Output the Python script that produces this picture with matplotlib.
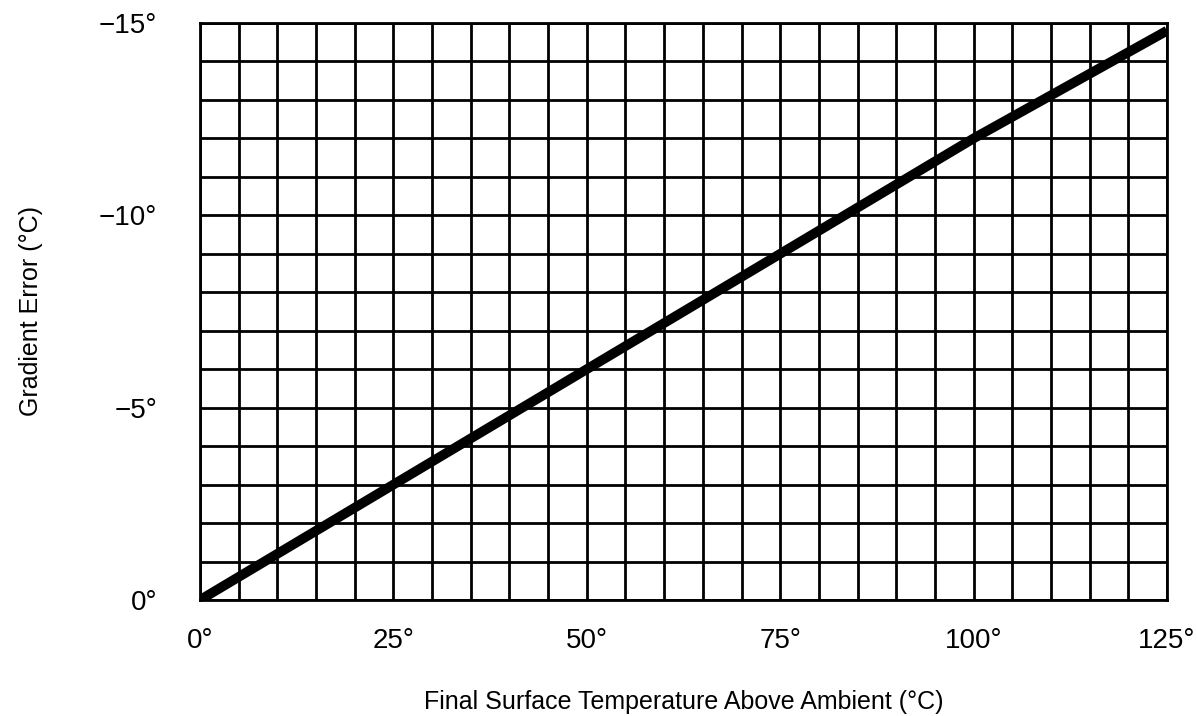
import matplotlib
matplotlib.use("Agg")
import matplotlib.pyplot as plt
import numpy as np

plt.rcParams['font.family'] = ['Liberation Sans', 'DejaVu Sans']

# Data
temp_above_ambient = [0, 25, 50, 75, 100, 125]
gradient_error = [0, -3.0, -6.0, -9.0, -12.0, -14.8]

x_ticks = [0, 25, 50, 75, 100, 125]
x_tick_labels = ["0°", "25°", "50°", "75°", "100°", "125°"]
y_ticks = [0, -5, -10, -15]
y_tick_labels = ["0°", "\u22125°", "\u221210°", "\u221215°"]

fig = plt.figure(figsize=(11.97, 7.16), dpi=100)
ax = fig.add_axes([200/1197, (716-600)/716, (1167-200)/1197, (600-23)/716])

ax.set_xlim(0, 125)
ax.set_ylim(0, -15)

# grid
for xv in np.arange(0, 126, 5):
    ax.axvline(xv, color='black', lw=2.0, zorder=1)
for yv in np.arange(0, -16, -1):
    ax.axhline(yv, color='black', lw=2.0, zorder=1)

ax.plot(temp_above_ambient, gradient_error, color='black', lw=7, solid_capstyle='butt', zorder=3)

for s in ax.spines.values():
    s.set_linewidth(2.0)

ax.set_xticks(x_ticks)
ax.set_xticklabels(x_tick_labels, fontsize=20)
ax.set_yticks(y_ticks)
ax.set_yticklabels(y_tick_labels, fontsize=20)
ax.tick_params(axis='both', length=0)
ax.tick_params(axis='x', pad=20)
ax.tick_params(axis='y', pad=31)

ax.set_xlabel("Final Surface Temperature Above Ambient (°C)", fontsize=18, labelpad=26)
ax.set_ylabel("Gradient Error (°C)", fontsize=18, labelpad=40)

fig.savefig("out.png", dpi=100, facecolor='white')
